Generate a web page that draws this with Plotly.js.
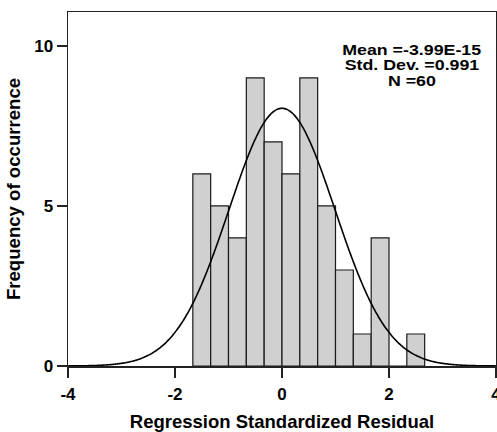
<!DOCTYPE html>
<html>
<head>
<meta charset="utf-8">
<script src="https://cdn.plot.ly/plotly-3.0.1.min.js"></script>
<style>
html,body{margin:0;padding:0;background:#fff;}
#chart{width:497px;height:432px;}
</style>
</head>
<body>
<div id="chart"></div>
<script>
// Histogram bins (left edges, width 1/3) and counts
const binStarts = [-5/3, -4/3, -1, -2/3, -1/3, 0, 1/3, 2/3, 1, 4/3, 5/3, 2, 7/3];
const counts    = [6, 5, 4, 9, 7, 6, 9, 5, 3, 1, 4, 0, 1];
const binWidth = 1/3;
// Displayed statistics
const statMean = -3.99e-15;
const statSD = 0.991;
const statN = 60;
const statLabels = ["Mean =-3.99E-15", "Std. Dev. =0.991", "N =60"];
const xTicks = [-4, -2, 0, 2, 4];
const yTicks = [0, 5, 10];

// Fitted normal curve scaled to histogram (SPSS style)
const curveX = [], curveY = [];
for (let i = 0; i <= 320; i++) {
  const x = -4 + i * 0.025;
  const z = (x - statMean) / statSD;
  curveX.push(x);
  curveY.push(statN * binWidth * Math.exp(-0.5 * z * z) / (statSD * Math.sqrt(2 * Math.PI)));
}

const fam = "Liberation Sans, Arial, sans-serif";
const bold = (size) => ({family: fam, size: size, weight: "bold", color: "#000"});

const traces = [
  {
    type: "bar", x: binStarts, y: counts, width: binWidth, offset: 0,
    marker: {color: "#d0d0d0", line: {color: "#1a1a1a", width: 1.2}},
    hoverinfo: "skip", showlegend: false
  },
  {
    type: "scatter", mode: "lines", x: curveX, y: curveY,
    line: {color: "#000", width: 1.6, shape: "spline"},
    hoverinfo: "skip", showlegend: false
  }
];

const layout = {
  width: 497, height: 432,
  margin: {l: 68, r: 1, t: 12, b: 66},
  paper_bgcolor: "#fff", plot_bgcolor: "#fff",
  font: bold(13),
  bargap: 0,
  xaxis: {
    range: [-4, 4], tickvals: xTicks, ticktext: xTicks.map(String),
    ticks: "outside", ticklen: 10, tickwidth: 1.5, tickcolor: "#222",
    ticklabeloverflow: "allow", ticklabelstandoff: 2,
    showline: true, linecolor: "#222", linewidth: 1.5, mirror: true,
    showgrid: false, zeroline: false,
    tickfont: bold(17),
    title: {text: "Regression Standardized Residual", font: bold(18.5), standoff: 12}
  },
  yaxis: {
    range: [0, 11.06], tickvals: yTicks, ticktext: yTicks.map(String),
    ticks: "outside", ticklen: 10, tickwidth: 1.5, tickcolor: "#222",
    showline: true, linecolor: "#222", linewidth: 1.5, mirror: true,
    showgrid: false, zeroline: false,
    tickfont: bold(17),
    title: {text: "Frequency of occurrence", font: bold(18.6), standoff: 8}
  },
  annotations: statLabels.map((t, i) => ({
    text: t, xref: "paper", yref: "paper", x: 0.803, y: 0.893 - i * 0.044,
    xanchor: "center", yanchor: "middle", showarrow: false,
    font: bold(14)
  }))
};

Plotly.newPlot("chart", traces, layout, {displayModeBar: false, staticPlot: true}).then(() => {
  // SPSS renders the statistics box text noticeably wide; widen it horizontally
  document.querySelectorAll("#chart .annotation-text").forEach(el => {
    el.style.transformBox = "fill-box";
    el.style.transformOrigin = "center";
    el.style.transform = "scaleX(1.27)";
  });
});
</script>
</body>
</html>
